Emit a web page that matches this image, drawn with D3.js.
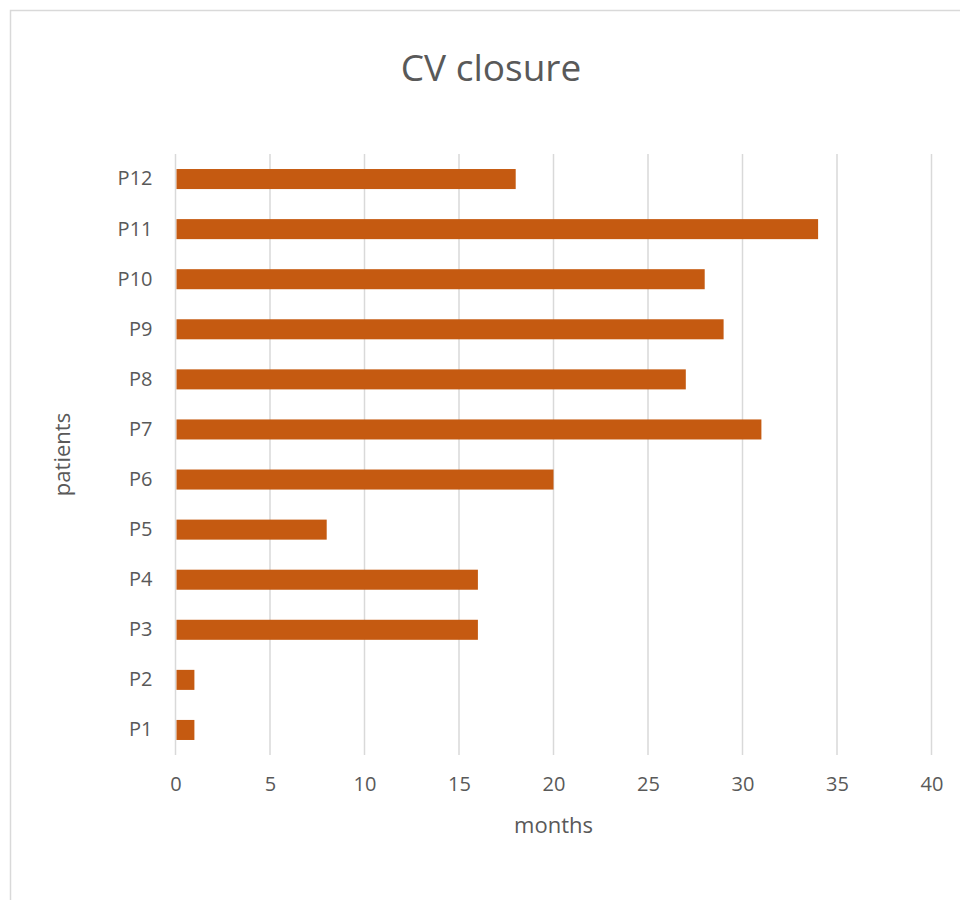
<!DOCTYPE html>
<html>
<head>
<meta charset="utf-8">
<script src="https://cdn.jsdelivr.net/npm/d3@7"></script>
<style>
  body { margin: 0; background: #fff; }
  svg text { font-family: "Open Sans", sans-serif; fill: #595959; }
</style>
</head>
<body>
<div id="chart"></div>
<script>
const patients = ['P1', 'P2', 'P3', 'P4', 'P5', 'P6', 'P7', 'P8', 'P9', 'P10', 'P11', 'P12']
const months = [1, 1, 16, 16, 8, 20, 31, 27, 29, 28, 34, 18]
const xTicks = [0, 5, 10, 15, 20, 25, 30, 35, 40]

const width = 960
const height = 900
const margin = { top: 154, right: 28.5, bottom: 145, left: 175.5 }
const innerW = width - margin.left - margin.right
const innerH = height - margin.top - margin.bottom

const data = patients.map((p, i) => ({ patient: p, value: months[i] }))

const svg = d3.select('#chart').append('svg')
  .attr('width', width)
  .attr('height', height)

// chart border (runs off the right and bottom edges)
svg.append('rect')
  .attr('x', 10.5).attr('y', 10.5)
  .attr('width', 960).attr('height', 900)
  .attr('fill', 'none')
  .attr('stroke', '#d9d9d9')
  .attr('stroke-width', 1.5)

const g = svg.append('g')
  .attr('transform', `translate(${margin.left},${margin.top})`)

const x = d3.scaleLinear().domain([0, 40]).range([0, innerW])
const y = d3.scaleBand()
  .domain(patients.slice().reverse())
  .range([0, innerH])
  .paddingInner(0.6)
  .paddingOuter(0.3)

// gridlines
g.selectAll('.grid')
  .data(xTicks).enter()
  .append('line')
  .attr('x1', d => x(d)).attr('x2', d => x(d))
  .attr('y1', 0).attr('y2', innerH)
  .attr('stroke', '#d9d9d9')
  .attr('stroke-width', 1.5)

g.selectAll('.bar')
  .data(data).enter()
  .append('rect')
  .attr('x', x(0) + 1)
  .attr('y', d => y(d.patient))
  .attr('width', d => x(d.value) - x(0) - 1)
  .attr('height', y.bandwidth())
  .attr('fill', '#c55a11')

const xAxis = g.append('g')
  .attr('transform', `translate(0,${innerH})`)
  .call(d3.axisBottom(x).tickValues(xTicks).tickSize(0).tickPadding(22))
xAxis.select('.domain').remove()
xAxis.selectAll('text').style('font-size', '20px').attr('fill', '#595959')

const yAxis = g.append('g')
  .call(d3.axisLeft(y).tickSize(0).tickPadding(23))
yAxis.select('.domain').remove()
yAxis.selectAll('text').style('font-size', '20px').attr('fill', '#595959')

svg.append('text')
  .attr('x', 491).attr('y', 81)
  .attr('text-anchor', 'middle')
  .style('font-size', '37px')
  .text('CV closure')

svg.append('text')
  .attr('x', margin.left + innerW / 2).attr('y', 833)
  .attr('text-anchor', 'middle')
  .style('font-size', '22px')
  .text('months')

svg.append('text')
  .attr('transform', `translate(70,${margin.top + innerH / 2}) rotate(-90)`)
  .attr('text-anchor', 'middle')
  .style('font-size', '22px')
  .text('patients')
</script>
</body>
</html>
